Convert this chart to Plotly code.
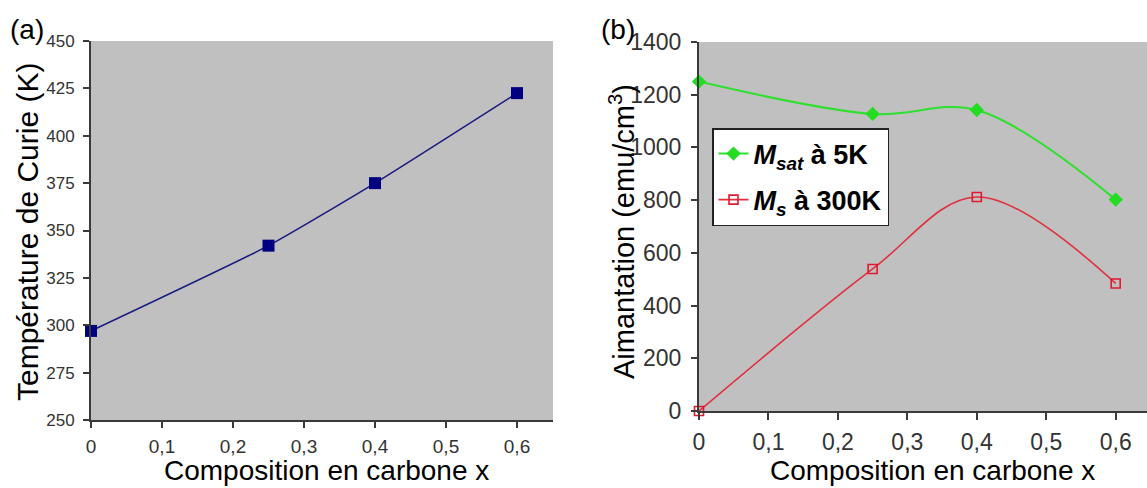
import plotly.graph_objects as go

W, H = 1147, 488

# Carbon composition x
x_a = [0, 0.25, 0.4, 0.6]
curie_T = [297, 342, 375, 422.5]

x_b = [0, 0.25, 0.4, 0.6]
msat_5K = [1250, 1127, 1142, 802]
ms_300K = [0, 539, 812, 484]

x_ticks = [0, 0.1, 0.2, 0.3, 0.4, 0.5, 0.6]
x_ticktext = ["0", "0,1", "0,2", "0,3", "0,4", "0,5", "0,6"]
ya_ticks = [250, 275, 300, 325, 350, 375, 400, 425, 450]
yb_ticks = [0, 200, 400, 600, 800, 1000, 1200, 1400]


def px(x):
    return x / W


def py(y):
    return 1 - y / H


NARROW = "Liberation Sans Narrow, Arial Narrow, sans-serif"
SANS = "Liberation Sans, Arial, sans-serif"
AXC = "#3a3a3a"
BG = "#c0c0c0"

# plot-area pixel boxes (left, right, top, bottom)
A_L, A_R, A_T, A_B = 91, 553, 41, 420
B_L, B_R, B_T, B_B = 699, 1147, 42, 411
xa_range = [0, (A_R - A_L) / 710.0]
xb_range = [0, (B_R - B_L) / 694.5]

fig = go.Figure()

fig.add_trace(go.Scatter(
    x=x_a, y=curie_T, mode="lines+markers", xaxis="x", yaxis="y",
    line=dict(color="#1a1a80", width=1.6, shape="spline", smoothing=0.5),
    marker=dict(symbol="square", size=12, color="#000080"),
    showlegend=False, cliponaxis=False,
))

fig.add_trace(go.Scatter(
    x=x_b, y=msat_5K, mode="lines+markers", xaxis="x2", yaxis="y2",
    name="<i>M</i><sub><i>sat</i></sub> à 5K", legendgroup="sat",
    line=dict(color="#2ee02e", width=2, shape="spline", smoothing=1.0),
    marker=dict(symbol="diamond", size=11, color="#22dd22"),
    cliponaxis=False,
))

fig.add_trace(go.Scatter(
    x=x_b, y=ms_300K, mode="lines+markers", xaxis="x2", yaxis="y2",
    name="<i>M</i><sub><i>s</i></sub> à 300K", legendgroup="s",
    line=dict(color="#e03040", width=1.6, shape="spline", smoothing=1.0),
    marker=dict(symbol="square-open", size=9, color="#e01830",
                line=dict(width=1.6)),
    cliponaxis=False,
))

axis_common = dict(showgrid=False, zeroline=False, showline=True, automargin=False,
                   linecolor=AXC, linewidth=2, tickcolor=AXC, tickwidth=1.5)

fig.update_layout(
    width=W, height=H,
    margin=dict(l=0, r=0, t=0, b=0, autoexpand=False),
    paper_bgcolor="white",
    plot_bgcolor=BG,
    xaxis=dict(domain=[px(A_L), px(A_R)], range=xa_range, anchor="y",
               tickvals=x_ticks, ticktext=x_ticktext, ticks="outside", ticklen=6,
               ticklabelstandoff=2,
               tickfont=dict(family=NARROW, size=19, color="#333"),
               **axis_common),
    yaxis=dict(domain=[py(A_B), py(A_T)], range=[250, 450], anchor="x",
               tickvals=ya_ticks, ticks="outside", ticklen=6,
               ticklabelstandoff=5,
               tickfont=dict(family=NARROW, size=17, color="#333"),
               **axis_common),
    xaxis3=dict(overlaying="x", side="top", anchor="y", range=xa_range,
                tickvals=x_ticks, ticks="inside", ticklen=7, showticklabels=False,
                **axis_common),
    yaxis3=dict(overlaying="y", side="right", anchor="x", range=[250, 450],
                tickvals=ya_ticks, ticks="inside", ticklen=6, showticklabels=False,
                **axis_common),
    xaxis2=dict(domain=[px(B_L), px(B_R)], range=xb_range, anchor="y2",
                tickvals=x_ticks, ticktext=x_ticktext, ticks="outside", ticklen=7,
                ticklabelstandoff=2,
                tickfont=dict(family=NARROW, size=23, color="#333"),
                **axis_common),
    yaxis2=dict(domain=[py(B_B), py(B_T)], range=[0, 1400], anchor="x2",
                tickvals=yb_ticks, ticks="outside", ticklen=6,
                ticklabelstandoff=5,
                tickfont=dict(family=NARROW, size=23, color="#333"),
                **axis_common),
    xaxis4=dict(overlaying="x2", side="top", anchor="y2", range=xb_range,
                tickvals=x_ticks, ticks="inside", ticklen=7, showticklabels=False,
                **axis_common),
    legend=dict(x=px(712), y=py(128), xanchor="left", yanchor="top",
                bgcolor="white", bordercolor="#222", borderwidth=1.5,
                traceorder="grouped", tracegroupgap=8,
                font=dict(family=SANS, size=27, color="black", weight="bold")),
)

annotations = [
    dict(text="(a)", x=px(27), y=py(29)),
    dict(text="(b)", x=px(618), y=py(29)),
    dict(text="Température de Curie (K)", x=px(27), y=py(232), textangle=-90,
         font=dict(family=SANS, size=30, color="black")),
    dict(text="Aimantation (emu/cm<sup>3</sup>)", x=px(622), y=py(232), textangle=-90,
         font=dict(family=SANS, size=29, color="black")),
    dict(text="Composition en carbone x", x=px(326), y=0, yanchor="bottom",
         font=dict(family=SANS, size=28, color="black")),
    dict(text="Composition en carbone x", x=px(933), y=0, yanchor="bottom",
         font=dict(family=SANS, size=28, color="black")),
]
for a in annotations:
    a.setdefault("font", dict(family=SANS, size=28, color="black"))
    a.setdefault("yanchor", "middle")
    fig.add_annotation(xref="paper", yref="paper", showarrow=False,
                       xanchor="center", **a)

fig.write_html("out.html")
